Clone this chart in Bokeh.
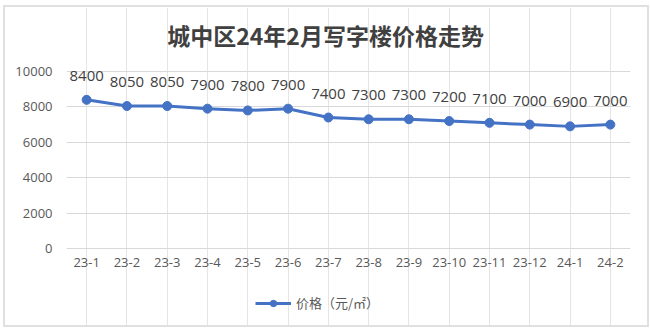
from bokeh.plotting import figure
from bokeh.models import (ColumnDataSource, LabelSet, Label, Legend, LegendItem,
                          FixedTicker, Range1d)
from bokeh.core.properties import value
from bokeh.embed import file_html
from bokeh.resources import INLINE

categories = ["23-1", "23-2", "23-3", "23-4", "23-5", "23-6", "23-7",
              "23-8", "23-9", "23-10", "23-11", "23-12", "24-1", "24-2"]
prices = [8400, 8050, 8050, 7900, 7800, 7900, 7400, 7300, 7300, 7200, 7100, 7000, 6900, 7000]
y_ticks = [0, 2000, 4000, 6000, 8000, 10000]
title_text = "城中区24年2月写字楼价格走势"
series_name = "价格（元/㎡）"

src = ColumnDataSource(dict(x=categories, y=prices, lab=[str(v) for v in prices]))
cat_src = ColumnDataSource(dict(x=categories, lab=categories))

p = figure(frame_width=564, frame_height=318, x_range=categories,
           y_range=Range1d(-4350, 13616), x_axis_location=None, title=None,
           output_backend="svg", toolbar_location=None,
           min_border_left=61, min_border_right=17, min_border_top=0, min_border_bottom=0,
           background_fill_color="white", border_fill_color="white", outline_line_color=None)
p.margin = (5, 0, 0, 3)
p.styles = {"border": "2px solid #e0e0e0"}

line = p.line("x", "y", source=src, line_color="#4472C4", line_width=3)
pts = p.scatter("x", "y", source=src, size=9, fill_color="#4472C4", line_color="#4472C4")

labels = LabelSet(x="x", y="y", text="lab", source=src, text_align="center",
                  text_baseline="bottom", y_offset=19, text_font_size="15px",
                  text_color="#404040", text_font=value("Open Sans"))
p.add_layout(labels)

cat_labels = LabelSet(x="x", y=0, text="lab", source=cat_src, text_align="center",
                      text_baseline="top", y_offset=-9, text_font_size="13px",
                      text_color="#595959", text_font=value("Open Sans"))
p.add_layout(cat_labels)

title = Label(x=6.43, y=12090, text=title_text, text_align="center",
              text_baseline="middle", text_font="Noto Sans CJK SC",
              text_font_size="23px", text_font_style="bold", text_color="#404040")
p.add_layout(title)

p.yaxis.ticker = FixedTicker(ticks=y_ticks)
p.yaxis.axis_line_color = None
p.yaxis.major_tick_line_color = None
p.yaxis.minor_tick_line_color = None
p.yaxis.major_label_text_font = "Open Sans"
p.yaxis.major_label_text_font_size = "13px"
p.yaxis.major_label_text_color = "#595959"
p.yaxis.major_label_standoff = 8

p.ygrid.grid_line_color = "#d9d9d9"
p.ygrid.grid_line_width = 1

legend = Legend(items=[LegendItem(label=series_name, renderers=[line, pts])],
                orientation="horizontal", location=(189, 13),
                label_text_font="Noto Sans CJK SC", label_text_font_size="13px",
                label_text_color="#595959", glyph_width=36, glyph_height=16,
                label_standoff=5, border_line_color=None, background_fill_alpha=0,
                margin=0, padding=2)
p.add_layout(legend, "center")

open("out.html", "w").write(file_html(p, INLINE))
